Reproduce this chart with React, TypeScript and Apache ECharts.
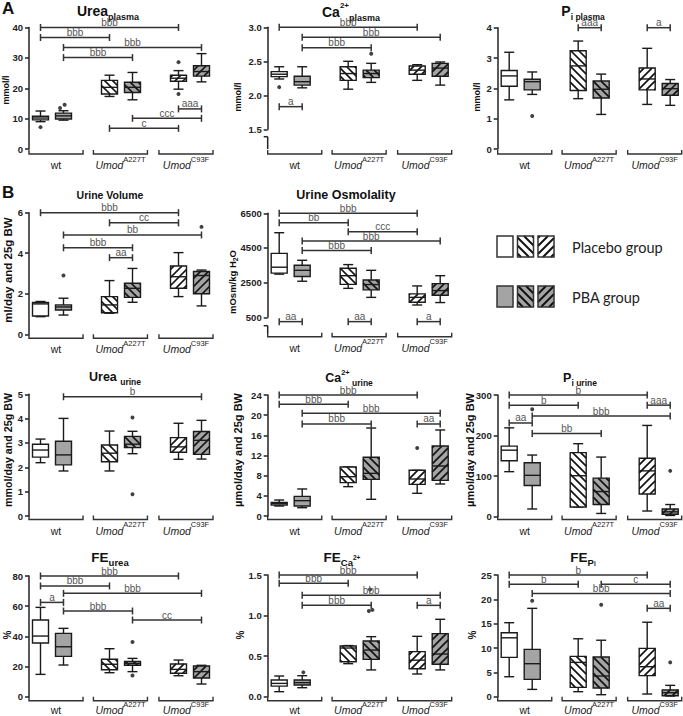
import React, { useEffect, useRef } from 'react';
import * as echarts from 'echarts';

const FONT = '"Liberation Sans", Arial, Helvetica, sans-serif';

// x positions of the six boxes: wt placebo, wt PBA, A227T placebo, A227T PBA, C93F placebo, C93F PBA
const POS = [1, 2, 4, 5, 7, 8];
const GROUP_LABELS = ['{n|wt}', '{i|Umod}{s|A227T}', '{i|Umod}{s|C93F}'];
const GROUP_SPANS = [[0.5, 2.85], [3.3, 5.65], [6.15, 8.5]];

// box stats: [min, q1, median, q3, max]
const ureaPlasmaBox = [
  [9.0, 9.6, 10.2, 10.8, 12.5],
  [9.5, 9.9, 10.9, 11.8, 12.6],
  [17.3, 18.1, 20.3, 22.6, 24.3],
  [16.2, 18.6, 20.3, 22.0, 25.2],
  [19.7, 22.3, 23.3, 24.3, 25.8],
  [22.1, 24.0, 25.5, 27.4, 31.4],
];
const ureaPlasmaOut = [[1, 7.2], [1.85, 13.5], [2.05, 14.6], [7, 28.6], [7, 18.1]];
const ureaPlasmaSig = [[1, 7, 40, 'bbb'], [1, 4, 36.7, 'bbb'], [2, 8, 33.4, 'bbb'], [2, 5, 30.1, 'bbb'], [7, 8, 13.2, 'aaa'], [5, 8, 10.1, 'ccc'], [4, 7, 6.8, 'c']];

const caPlasmaBox = [
  [2.24, 2.275, 2.31, 2.348, 2.42],
  [2.11, 2.15, 2.2, 2.28, 2.42],
  [2.09, 2.22, 2.32, 2.42, 2.5],
  [2.19, 2.26, 2.32, 2.37, 2.47],
  [2.22, 2.31, 2.37, 2.43, 2.45],
  [2.15, 2.28, 2.4, 2.47, 2.49],
];
const caPlasmaOut = [[1, 2.12], [5, 2.61]];
const caPlasmaSig = [[1, 7, 3.0, 'bbb'], [2, 8, 2.853, 'bbb'], [2, 5, 2.7, 'bbb'], [1, 2, 1.833, 'a']];

const piPlasmaBox = [
  [1.62, 2.07, 2.41, 2.59, 3.19],
  [1.8, 1.95, 2.22, 2.3, 2.54],
  [1.66, 1.93, 2.74, 3.24, 3.56],
  [1.14, 1.68, 1.97, 2.24, 2.47],
  [1.47, 1.95, 2.31, 2.67, 3.32],
  [1.44, 1.77, 1.99, 2.16, 2.29],
];
const piPlasmaOut = [[2, 1.09]];
const piPlasmaSig = [[4, 5, 4, 'aaa'], [7, 8, 4, 'a']];

const urineVolBox = [
  [0.87, 0.9, 1.5, 1.57, 1.62],
  [0.95, 1.2, 1.35, 1.45, 1.78],
  [1.04, 1.06, 1.45, 1.86, 2.65],
  [1.58, 1.82, 2.27, 2.52, 3.25],
  [1.86, 2.27, 2.84, 3.37, 4.03],
  [1.4, 2.0, 2.9, 3.1, 3.17],
];
const urineVolOut = [[2, 2.9], [8, 5.3]];
const urineVolSig = [[1, 7, 6, 'bbb'], [4, 7, 5.5, 'cc'], [2, 8, 4.9, 'bb'], [2, 5, 4.27, 'bbb'], [4, 5, 3.78, 'aa']];

const osmoBox = [
  [2990, 3050, 3390, 4190, 5380],
  [2580, 2850, 3210, 3500, 3790],
  [2170, 2400, 2900, 3330, 3540],
  [1650, 2080, 2390, 2650, 3210],
  [1210, 1370, 1650, 1850, 2310],
  [1350, 1770, 2040, 2440, 2900],
];
const osmoOut: number[][] = [];
const osmoSig = [[1, 7, 6500, 'bbb'], [1, 4, 5960, 'bb'], [4, 7, 5440, 'ccc'], [2, 8, 4900, 'bbb'], [2, 5, 4350, 'bbb'], [1, 2, 250, 'aa'], [4, 5, 250, 'aa'], [7, 8, 250, 'a']];
const osmoTicks = [500, 2500, 4500, 6500];

const ureaUrineBox = [
  [2.19, 2.42, 2.71, 2.95, 3.16],
  [1.85, 2.1, 2.51, 3.07, 4.01],
  [1.85, 2.23, 2.58, 2.92, 3.49],
  [2.56, 2.81, 2.95, 3.27, 3.48],
  [2.33, 2.62, 2.84, 3.22, 3.81],
  [2.34, 2.53, 3.11, 3.47, 3.93],
];
const ureaUrineOut = [[5, 4.05], [5, 0.89]];
const ureaUrineSig = [[2, 8, 4.9, 'b']];

const caUrineBox = [
  [1.98, 2.18, 2.5, 2.71, 3.17],
  [1.65, 1.98, 3.04, 3.9, 5.36],
  [5.82, 6.61, 7.8, 9.72, 9.72],
  [3.31, 7.27, 8.46, 11.64, 17.45],
  [4.5, 6.28, 7.34, 9.06, 9.06],
  [6.35, 7.07, 9.92, 13.88, 17.06],
];
const caUrineOut = [[7, 13.5]];
const caUrineSig = [[1, 7, 24, 'bbb'], [1, 4, 22.15, 'bbb'], [2, 8, 20.36, 'bbb'], [2, 5, 18.25, 'bbb'], [7, 8, 18.25, 'aa']];

const piUrineBox = [
  [111, 138, 164, 174, 219],
  [19, 77, 102, 133, 152],
  [24, 24, 101, 158, 180],
  [8, 30, 62, 95, 147],
  [14, 56, 113, 144, 225],
  [3, 6, 12, 19, 30],
];
const piUrineOut = [[2, 265], [8, 113]];
const piUrineSig = [[1, 7, 300, 'b'], [1, 4, 275, 'b'], [7, 8, 275, 'aaa'], [1, 2, 231, 'aa'], [2, 8, 248, 'bbb'], [2, 5, 205, 'bb']];

const feUreaBox = [
  [14.8, 35.6, 40.2, 50.8, 59.2],
  [21, 26.7, 33.1, 42, 45.3],
  [15.9, 17.9, 21.5, 24.8, 31.8],
  [16.6, 20.8, 22.1, 23.4, 25.4],
  [13.9, 15.5, 18.1, 21.7, 24.3],
  [8.4, 12.4, 16.6, 20.3, 20.8],
];
const feUreaOut = [[5, 36.2], [5, 14.1]];
const feUreaSig = [[1, 7, 80, 'bbb'], [1, 4, 73.4, 'bbb'], [2, 8, 68.5, 'bbb'], [1, 2, 62.5, 'a'], [2, 5, 56.8, 'bbb'], [5, 8, 50.8, 'cc']];

const feCaBox = [
  [0.062, 0.13, 0.164, 0.206, 0.255],
  [0.111, 0.144, 0.173, 0.206, 0.259],
  [0.407, 0.43, 0.6, 0.625, 0.63],
  [0.33, 0.46, 0.575, 0.686, 0.74],
  [0.28, 0.345, 0.45, 0.555, 0.744],
  [0.33, 0.4, 0.526, 0.777, 0.954],
];
const feCaOut = [[2.05, 0.3], [4.9, 1.056], [5.05, 1.07], [4.95, 1.32]];
const feCaSig = [[1, 7, 1.5, 'bbb'], [1, 4, 1.397, 'bbb'], [2, 8, 1.25, 'bbb'], [2, 5, 1.126, 'bbb'], [7, 8, 1.126, 'a']];

const fePiBox = [
  [4.1, 8.08, 12.1, 13.15, 15.2],
  [1.5, 3.56, 6.78, 9.73, 18.15],
  [1.03, 1.92, 7.05, 8.29, 11.9],
  [0.41, 1.78, 4.25, 8.15, 11.6],
  [0.55, 4.32, 6.16, 9.93, 15.3],
  [0.14, 0.2, 0.82, 1.37, 2.33],
];
const fePiOut = [[2, 19.7], [5, 18.9], [8, 7.05]];
const fePiSig = [[1, 7, 25, 'b'], [1, 4, 23.1, 'b'], [5, 8, 23.1, 'c'], [2, 8, 21.2, 'bbb'], [7, 8, 18.15, 'aa']];

type Panel = {
  box: number[][]; out: number[][]; sig: (number | string)[][];
  left: number; top: number; bottom: number; min: number; max: number; interval?: number; ticks?: number[]; dec: number;
  groupY: number; labOff: number; title: string; tf: number; sf: number; tx: number; ty: number;
  yname: string; nf: number; nx: number; ny: number; stub?: [number, number];
};

const PANELS: Panel[] = [
  { box: ureaPlasmaBox, out: ureaPlasmaOut, sig: ureaPlasmaSig, left: 29, top: 27.5, bottom: 149, min: 0, max: 40, interval: 10, dec: 0, groupY: 154, labOff: 11, title: '{b|Urea}{sub|plasma}', tf: 14, sf: 9, tx: 108, ty: 11, yname: '{n|mmol/l}', nf: 9, nx: 6, ny: 90 },
  { box: caPlasmaBox, out: caPlasmaOut, sig: caPlasmaSig, left: 267.7, top: 27.3, bottom: 129.3, min: 1.5, max: 3.0, interval: 0.5, dec: 1, groupY: 154, labOff: 11, title: '{b|Ca}{sup|2+}{sub|plasma}', tf: 14, sf: 9, tx: 351, ty: 12, yname: '{n|mmol/l}', nf: 9, nx: 238, ny: 97, stub: [136.7, 149] },
  { box: piPlasmaBox, out: piPlasmaOut, sig: piPlasmaSig, left: 497.7, top: 27.7, bottom: 149, min: 0, max: 4, interval: 1, dec: 0, groupY: 154, labOff: 11, title: '{b|P}{sub|i plasma}', tf: 14, sf: 8.5, tx: 583, ty: 11, yname: '{n|mmol/l}', nf: 9, nx: 477, ny: 97 },
  { box: urineVolBox, out: urineVolOut, sig: urineVolSig, left: 29, top: 212.7, bottom: 334.3, min: 0, max: 6, interval: 2, dec: 0, groupY: 338.3, labOff: 11, title: '{b|Urine Volume}', tf: 10.5, sf: 8, tx: 110, ty: 195, yname: '{n|ml/day and 25g BW}', nf: 11.5, nx: 8, ny: 270 },
  { box: osmoBox, out: osmoOut, sig: osmoSig, left: 267.7, top: 213.3, bottom: 317.3, min: 500, max: 6500, ticks: osmoTicks, dec: 0, groupY: 336.7, labOff: 11, title: '{b|Urine Osmolality}', tf: 12.5, sf: 9, tx: 346, ty: 195, yname: '{n|mOsm/kg H}{s|2}{n|O}', nf: 9.5, nx: 232, ny: 282, stub: [325.7, 333.3] },
  { box: ureaUrineBox, out: ureaUrineOut, sig: ureaUrineSig, left: 29, top: 394.3, bottom: 516, min: 0, max: 5, interval: 1, dec: 0, groupY: 519.5, labOff: 11, title: '{b|Urea }{sub|urine}', tf: 12.5, sf: 8.5, tx: 115, ty: 377, yname: '{n|mmol/day and 25g BW}', nf: 10.7, nx: 8, ny: 450 },
  { box: caUrineBox, out: caUrineOut, sig: caUrineSig, left: 267.7, top: 395, bottom: 516, min: 0, max: 24, interval: 4, dec: 0, groupY: 519.5, labOff: 11, title: '{b|Ca}{sup|2+}{sub| urine}', tf: 12.5, sf: 8.5, tx: 349, ty: 378, yname: '{n|µmol/day and 25g BW}', nf: 11, nx: 238, ny: 450 },
  { box: piUrineBox, out: piUrineOut, sig: piUrineSig, left: 497.7, top: 395, bottom: 516.7, min: 0, max: 300, interval: 100, dec: 0, groupY: 519.5, labOff: 11, title: '{b|P}{sub|i urine}', tf: 12.5, sf: 8.5, tx: 580, ty: 378, yname: '{n|µmol/day and 25g BW}', nf: 11, nx: 470, ny: 450 },
  { box: feUreaBox, out: feUreaOut, sig: feUreaSig, left: 29, top: 576, bottom: 696.7, min: 0, max: 80, interval: 20, dec: 0, groupY: 700.7, labOff: 9.5, title: '{b|FE}{sub|urea}', tf: 13.5, sf: 9.5, tx: 110, ty: 557, yname: '{n|%}', nf: 10, nx: 7, ny: 635 },
  { box: feCaBox, out: feCaOut, sig: feCaSig, left: 267.7, top: 575, bottom: 696.7, min: 0, max: 1.5, interval: 0.5, dec: 1, groupY: 700.7, labOff: 9.5, title: '{b|FE}{sub|Ca}{ssup|2+}', tf: 13.5, sf: 9.5, tx: 342, ty: 557, yname: '{n|%}', nf: 10, nx: 240, ny: 635 },
  { box: fePiBox, out: fePiOut, sig: fePiSig, left: 497.7, top: 575, bottom: 696.7, min: 0, max: 25, interval: 5, dec: 0, groupY: 700.7, labOff: 9.5, title: '{b|FE}{sub|P}{ssub|i}', tf: 13.5, sf: 9.5, tx: 583, ty: 557, yname: '{n|%}', nf: 10, nx: 472, ny: 635 },
];

const AX_W = 184;

function hatchLines(x0: number, y0: number, x1: number, y1: number, dir: number, step: number) {
  const segs: number[][] = [];
  if (dir === 1) {
    const cStart = Math.ceil((y0 - x1) / step) * step;
    for (let c = cStart; c <= y1 - x0; c += step) {
      const xa = Math.max(x0, y0 - c), xb = Math.min(x1, y1 - c);
      if (xb - xa > 0.3) segs.push([xa, xa + c, xb, xb + c]);
    }
  } else {
    const cStart = Math.ceil((x0 + y0) / step) * step;
    for (let c = cStart; c <= x1 + y1; c += step) {
      const xa = Math.max(x0, c - y1), xb = Math.min(x1, c - y0);
      if (xb - xa > 0.3) segs.push([xa, c - xa, xb, c - xb]);
    }
  }
  return segs;
}

function titleRich(tf: number, sf: number) {
  const lh = Math.round(tf * 1.5);
  const base = { fontWeight: 'bold', fontFamily: FONT, fill: '#111' };
  return {
    b: { ...base, fontSize: tf, lineHeight: lh, verticalAlign: 'middle' },
    sub: { ...base, fontSize: sf, lineHeight: sf + 1, verticalAlign: 'bottom' },
    sup: { ...base, fontSize: sf - 1, lineHeight: sf, verticalAlign: 'top' },
    ssup: { ...base, fontSize: sf - 3, lineHeight: sf - 2, verticalAlign: 'middle' },
    ssub: { ...base, fontSize: sf - 3, lineHeight: sf - 3, verticalAlign: 'bottom' },
  };
}
function nameRich(nf: number) {
  return {
    n: { fontSize: nf, fontWeight: 'bold', fontFamily: FONT, fill: '#111', lineHeight: nf + 5, verticalAlign: 'middle' },
    s: { fontSize: nf * 0.72, fontWeight: 'bold', fontFamily: FONT, fill: '#111', lineHeight: nf * 0.72, verticalAlign: 'bottom' },
  };
}
const groupRich = {
  n: { fontSize: 10.5, fontFamily: FONT, fill: '#222', lineHeight: 20, verticalAlign: 'middle' },
  i: { fontSize: 10.5, fontStyle: 'italic', fontFamily: FONT, fill: '#222', lineHeight: 20, verticalAlign: 'middle' },
  s: { fontSize: 7.5, fontFamily: FONT, fill: '#222', lineHeight: 9, verticalAlign: 'top' },
};
const sigRich = {
  t: { fontSize: 10, fontFamily: FONT, fill: '#555555', lineHeight: 11, verticalAlign: 'middle' },
};

function boxRender(params: any, api: any) {
  const i = params.dataIndex;
  const x = api.value(0);
  const [cx, yMin] = api.coord([x, api.value(1)]);
  const yQ1 = api.coord([x, api.value(2)])[1];
  const yMed = api.coord([x, api.value(3)])[1];
  const yQ3 = api.coord([x, api.value(4)])[1];
  const yMax = api.coord([x, api.value(5)])[1];
  const hw = 8, cw = 5;
  const fill = i % 2 === 0 ? '#ffffff' : '#a4a4a4';
  const dir = Math.floor(i / 2);
  const ls = { stroke: '#1a1a1a', lineWidth: 1.4 };
  const ch: any[] = [
    { type: 'line', shape: { x1: cx, y1: yMax, x2: cx, y2: yQ3 }, style: ls },
    { type: 'line', shape: { x1: cx - cw, y1: yMax, x2: cx + cw, y2: yMax }, style: ls },
    { type: 'line', shape: { x1: cx, y1: yQ1, x2: cx, y2: yMin }, style: ls },
    { type: 'line', shape: { x1: cx - cw, y1: yMin, x2: cx + cw, y2: yMin }, style: ls },
    { type: 'rect', shape: { x: cx - hw, y: yQ3, width: hw * 2, height: Math.max(yQ1 - yQ3, 0.5) }, style: { fill, stroke: 'none' } },
  ];
  if (dir > 0) {
    for (const s of hatchLines(cx - hw, yQ3, cx + hw, yQ1, dir, 8)) {
      ch.push({ type: 'line', shape: { x1: s[0], y1: s[1], x2: s[2], y2: s[3] }, style: { stroke: '#111', lineWidth: 1.7 } });
    }
  }
  ch.push({ type: 'rect', shape: { x: cx - hw, y: yQ3, width: hw * 2, height: Math.max(yQ1 - yQ3, 0.5) }, style: { fill: 'none', stroke: '#1a1a1a', lineWidth: 1.4 } });
  ch.push({ type: 'line', shape: { x1: cx - hw, y1: yMed, x2: cx + hw, y2: yMed }, style: ls });
  return { type: 'group', children: ch };
}

function makeSigRender(sig: (number | string)[][]) {
  return (params: any, api: any) => {
    const s = sig[params.dataIndex];
    const [xa, y] = api.coord([api.value(0), api.value(2)]);
    const [xb] = api.coord([api.value(1), api.value(2)]);
    const st = { stroke: '#333', lineWidth: 1.5 };
    return {
      type: 'group',
      children: [
        { type: 'line', shape: { x1: xa, y1: y, x2: xb, y2: y }, style: st },
        { type: 'line', shape: { x1: xa, y1: y - 3.5, x2: xa, y2: y + 3.5 }, style: st },
        { type: 'line', shape: { x1: xb, y1: y - 3.5, x2: xb, y2: y + 3.5 }, style: st },
        { type: 'text', x: (xa + xb) / 2, y: y - 5, style: { text: '{t|' + String(s[3]) + '}', rich: sigRich, fill: '#555555', align: 'center', verticalAlign: 'middle' } },
      ],
    };
  };
}

function makeGroupRender(gy: number, off: number) {
  return (params: any, api: any) => {
    const [xa] = api.coord([api.value(0), 0]);
    const [xb] = api.coord([api.value(1), 0]);
    return {
      type: 'group',
      children: [
        { type: 'polyline', shape: { points: [[xa, gy - 4], [xa, gy], [xb, gy], [xb, gy - 4]] }, style: { stroke: '#333', lineWidth: 1.4, fill: 'none' } },
        { type: 'text', x: (xa + xb) / 2, y: gy + off, style: { text: GROUP_LABELS[params.dataIndex], rich: groupRich, align: 'center', verticalAlign: 'middle' } },
      ],
    };
  };
}

function legendBox(x: number, y: number, fill: string, dir: number) {
  const w = 16, h = 21;
  const els: any[] = [{ type: 'rect', shape: { x, y, width: w, height: h }, style: { fill, stroke: 'none' } }];
  if (dir > 0) {
    for (const s of hatchLines(x, y, x + w, y + h, dir, 8)) {
      els.push({ type: 'line', shape: { x1: s[0], y1: s[1], x2: s[2], y2: s[3] }, style: { stroke: '#111', lineWidth: 2 } });
    }
  }
  els.push({ type: 'rect', shape: { x, y, width: w, height: h }, style: { fill: 'none', stroke: '#333', lineWidth: 1.5 } });
  return els;
}

function buildOption() {
  const series: any[] = [];
  PANELS.forEach((p, i) => {
    series.push({ type: 'custom', xAxisIndex: i, yAxisIndex: i, clip: false, z: 2, itemStyle: { color: '#1a1a1a' }, renderItem: boxRender, encode: { x: 0, y: [1, 2, 3, 4, 5] }, data: p.box.map((b, j) => [POS[j], ...b]) });
    series.push({ type: 'scatter', xAxisIndex: i, yAxisIndex: i, clip: false, z: 3, symbolSize: 4, itemStyle: { color: '#111' }, data: p.out });
    series.push({ type: 'custom', xAxisIndex: i, yAxisIndex: i, clip: false, z: 4, itemStyle: { color: '#555555' }, renderItem: makeSigRender(p.sig), encode: { x: [0, 1], y: 2 }, data: p.sig.map((s) => [s[0], s[1], s[2]]) });
    series.push({ type: 'custom', xAxisIndex: i, yAxisIndex: i, clip: false, z: 4, itemStyle: { color: '#222222' }, renderItem: makeGroupRender(p.groupY, p.labOff), encode: { x: [0, 1] }, data: GROUP_SPANS });
  });

  const graphic: any[] = [];
  graphic.push({ type: 'text', x: 2, y: 8, style: { text: 'A', fill: '#111', fontSize: 17, fontWeight: 'bold', fontFamily: FONT, verticalAlign: 'middle' } });
  graphic.push({ type: 'text', x: 2, y: 192, style: { text: 'B', fill: '#111', fontSize: 17, fontWeight: 'bold', fontFamily: FONT, verticalAlign: 'middle' } });
  PANELS.forEach((p) => {
    graphic.push({ type: 'text', x: p.tx, y: p.ty, style: { text: p.title, rich: titleRich(p.tf, p.sf), align: 'center', verticalAlign: 'middle' } });
    graphic.push({ type: 'text', x: p.nx, y: p.ny, rotation: Math.PI / 2, style: { text: p.yname, rich: nameRich(p.nf), align: 'center', verticalAlign: 'middle' } });
    if (p.stub) {
      graphic.push({ type: 'line', shape: { x1: p.left, y1: p.stub[0], x2: p.left, y2: p.stub[1] }, style: { stroke: '#222', lineWidth: 1.5 } });
      graphic.push({ type: 'line', shape: { x1: p.left - 4, y1: p.stub[0], x2: p.left, y2: p.stub[0] }, style: { stroke: '#222', lineWidth: 1.5 } });
    }
  });
  // legend
  const lx = [497, 517.5, 538];
  const lfills = ['#ffffff', '#a4a4a4'];
  const ly = [236, 286];
  ly.forEach((y, r) => {
    lx.forEach((x, k) => { graphic.push(...legendBox(x, y, lfills[r], k)); });
  });
  graphic.push({ type: 'text', x: 572, y: 247, style: { text: 'Placebo group', fill: '#222', fontSize: 14.5, fontFamily: 'Lato, "Open Sans", sans-serif', verticalAlign: 'middle' } });
  graphic.push({ type: 'text', x: 572, y: 297, style: { text: 'PBA group', fill: '#222', fontSize: 14.5, fontFamily: 'Lato, "Open Sans", sans-serif', verticalAlign: 'middle' } });

  return {
    animation: false,
    backgroundColor: '#ffffff',
    grid: PANELS.map((p) => ({ left: p.left, top: p.top, width: AX_W, height: p.bottom - p.top })),
    xAxis: PANELS.map((p, i) => ({ type: 'value', gridIndex: i, min: 0.5, max: 8.5, show: false })),
    yAxis: PANELS.map((p, i) => {
      const ax: any = {
        type: 'value', gridIndex: i, min: p.min, max: p.max,
        axisLine: { show: true, lineStyle: { color: '#222', width: 1.5 } },
        axisTick: { show: true, length: 4, lineStyle: { color: '#222', width: 1.5 } },
        axisLabel: { fontSize: 9.5, fontWeight: 'bold', color: '#222', fontFamily: FONT, margin: 6, formatter: (v: number) => v.toFixed(p.dec) },
        splitLine: { show: false },
      };
      if (p.interval !== undefined) ax.interval = p.interval;
      if (p.ticks) {
        ax.axisTick.customValues = p.ticks;
        ax.axisLabel.customValues = p.ticks;
      }
      return ax;
    }),
    series,
    graphic,
  };
}

export default function App() {
  const ref = useRef<HTMLDivElement>(null);
  useEffect(() => {
    const chart = echarts.init(ref.current!, null, { renderer: 'svg' });
    chart.setOption(buildOption() as any);
    return () => chart.dispose();
  }, []);
  return <div ref={ref} style={{ position: 'fixed', left: 0, top: 0, width: 683, height: 716, background: '#fff' }} />;
}
